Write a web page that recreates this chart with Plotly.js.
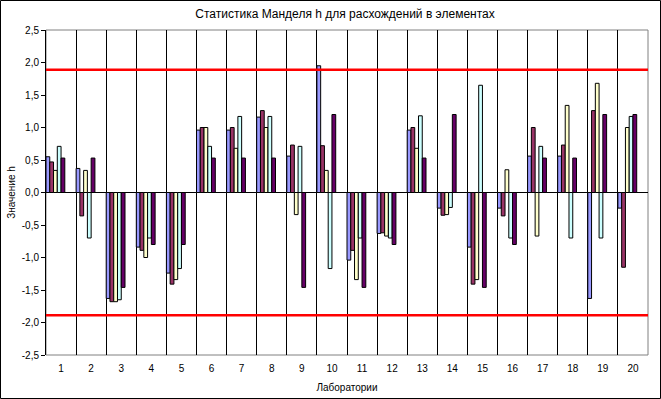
<!DOCTYPE html>
<html>
<head>
<meta charset="utf-8">
<script src="https://cdn.plot.ly/plotly-3.0.1.min.js"></script>
<style>html,body{margin:0;padding:0;background:#fff;}#chart{width:661px;height:399px;}</style>
</head>
<body>
<div id="chart"></div>
<script>
const labs = [1,2,3,4,5,6,7,8,9,10,11,12,13,14,15,16,17,18,19,20];
const labLabels = ['1','2','3','4','5','6','7','8','9','10','11','12','13','14','15','16','17','18','19','20'];
const series1 = [0.55,0.37,-1.63,-0.84,-1.24,0.96,0.96,1.16,0.56,1.95,-1.04,-0.63,0.96,-0.24,-0.84,-0.24,0.56,0.56,-1.63,-0.24];
const series2 = [0.47,-0.36,-1.68,-0.89,-1.41,1.00,1.00,1.26,0.73,0.72,-0.89,-0.62,1.00,-0.35,-1.41,-0.36,1.00,0.73,1.26,-1.15];
const series3 = [0.34,0.34,-1.68,-1.00,-1.34,1.00,0.68,1.00,-0.34,0.34,-1.34,-0.67,0.68,-0.34,-1.34,0.35,-0.67,1.34,1.68,1.00];
const series4 = [0.71,-0.70,-1.65,-0.70,-1.17,0.71,1.17,1.17,0.71,-1.17,-0.70,-0.70,1.18,-0.23,1.65,-0.70,0.71,-0.70,-0.70,1.17];
const series5 = [0.53,0.53,-1.46,-0.80,-0.80,0.53,0.53,0.53,-1.46,1.20,-1.46,-0.80,0.53,1.20,-1.46,-0.80,0.53,0.53,1.20,1.20];
const seriesColors = ['#9999FF','#993366','#FFFFCC','#CCFFFF','#660066'];
const hLimit = 1.89;
const yTickVals = [-2.5,-2,-1.5,-1,-0.5,0,0.5,1,1.5,2,2.5];
const yTickText = ['-2,5','-2,0','-1,5','-1,0','-0,5','0,0','0,5','1,0','1,5','2,0','2,5'];
const chartTitle = 'Статистика Манделя h для расхождений в элементах';
const xTitle = 'Лаборатории';
const yTitle = 'Значение h';

const allSeries = [series1, series2, series3, series4, series5];
const slots = 8;
const bw = 1 / slots;
const traces = allSeries.map((s, i) => ({
  type: 'bar', x: labs, y: s,
  width: bw, offset: -0.5 + i * bw,
  marker: {color: seriesColors[i], line: {color: '#000', width: 1}},
  hoverinfo: 'skip', showlegend: false
}));
[hLimit, -hLimit].forEach(v => traces.push({
  type: 'scatter', mode: 'lines', x: [0.5, 20.5], y: [v, v],
  line: {color: '#FF0000', width: 2.5}, showlegend: false, hoverinfo: 'skip', cliponaxis: true
}));

const W = 661, H = 399, L = 46, R = 13, T = 30, B = 44;
const pw = W - L - R, ph = H - T - B;
const fnt = 'Liberation Sans, Arial, sans-serif';
const layout = {
  width: W, height: H,
  margin: {l: L, r: R, t: T, b: B, pad: 0},
  paper_bgcolor: '#fff', plot_bgcolor: '#fff',
  barmode: 'overlay',
  font: {family: fnt, size: 10, color: '#000'},
  title: {text: chartTitle, font: {family: fnt, size: 12, color: '#000'}, x: 0.522, xanchor: 'center', y: 1 - 14/H, yanchor: 'middle', yref: 'container'},
  xaxis: {
    range: [0.5, 20.5], tickvals: labs, ticktext: labLabels,
    showgrid: false, zeroline: false, showline: false,
    ticks: 'outside', ticklen: 4, tickcolor: 'rgba(0,0,0,0)',
    tickfont: {family: fnt, size: 10, color: '#000'},
    minor: {tick0: 0.5, dtick: 1, showgrid: true, gridcolor: '#000', gridwidth: 1},
    title: {text: xTitle, font: {family: fnt, size: 10, color: '#000'}, standoff: 10},
    fixedrange: true
  },
  yaxis: {
    range: [-2.5, 2.5], tickvals: yTickVals, ticktext: yTickText,
    showgrid: false, zeroline: true, zerolinecolor: '#000', zerolinewidth: 1,
    showline: true, linecolor: '#000', linewidth: 1,
    ticks: 'outside', ticklen: 4, tickcolor: '#000',
    tickfont: {family: fnt, size: 10, color: '#000'},
    title: {text: yTitle, font: {family: fnt, size: 10, color: '#000'}, standoff: 4},
    fixedrange: true
  },
  shapes: [
    {type: 'rect', xref: 'paper', yref: 'paper', x0: 0, x1: 1, y0: 0, y1: 1, line: {color: '#808080', width: 1}, layer: 'below'},
    {type: 'rect', xref: 'paper', yref: 'paper', x0: (0.5 - L)/pw, x1: (W - 0.5 - L)/pw, y0: -(B - 0.5)/ph, y1: 1 + (T - 0.5)/ph, line: {color: '#000', width: 1}}
  ]
};
Plotly.newPlot('chart', traces, layout, {displayModeBar: false, staticPlot: true});
</script>
</body>
</html>
